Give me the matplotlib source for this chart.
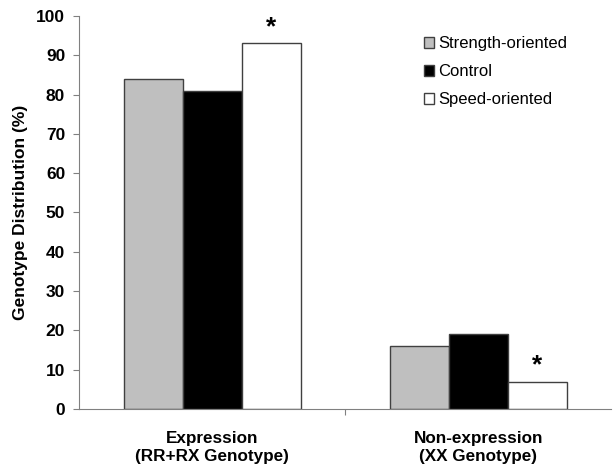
import matplotlib.pyplot as plt
import numpy as np
from matplotlib.patches import Patch

plt.rcParams['font.family'] = ['Liberation Sans', 'DejaVu Sans']

categories = ['Expression\n(RR+RX Genotype)', 'Non-expression\n(XX Genotype)']
groups = ['Strength-oriented', 'Control', 'Speed-oriented']
strength = [84, 16]
control = [81, 19]
speed = [93, 7]
colors = ['#bfbfbf', '#000000', '#ffffff']

fig = plt.figure(figsize=(6.13, 4.67), dpi=100)
ax = fig.add_axes([0.129, 0.124, 0.868, 0.842])

x = np.arange(len(categories))
w = 0.222
for i, (vals, c) in enumerate(zip([strength, control, speed], colors)):
    ax.bar(x + (i - 1) * w, vals, w, color=c, edgecolor='#404040', linewidth=1.0, label=groups[i])

# significance marks above speed bars
for xi, v in zip(x, speed):
    ax.text(xi + w, v + 1.0, '*', ha='center', va='bottom', fontsize=19, fontweight='bold')

ax.set_xlim(-0.5, 1.5)
ax.set_ylim(0, 100)
ax.set_yticks(range(0, 101, 10))
ax.set_yticklabels([str(v) for v in range(0, 101, 10)], fontsize=12.5, fontweight='bold')
ax.set_xticks([0.5], minor=False)
ax.set_xticklabels([''])
ax.tick_params(axis='x', length=4, color='#808080')
ax.tick_params(axis='y', length=4, color='#808080', pad=6)
for xi, lab in zip(x, categories):
    ax.text(xi, -5.5, lab, ha='center', va='top', fontsize=12.3, fontweight='bold', linespacing=1.3)

ax.set_ylabel('Genotype Distribution (%)', fontsize=12.5, fontweight='bold', labelpad=6)

for s in ['top', 'right']:
    ax.spines[s].set_visible(False)
ax.spines['left'].set_color('#808080')
ax.spines['bottom'].set_color('#808080')

handles = [Patch(facecolor=c, edgecolor='#404040', linewidth=1.0) for c in colors]
ax.legend(handles, groups, loc='upper left', bbox_to_anchor=(0.635, 0.965), frameon=False,
          fontsize=12, handlelength=0.6, handleheight=0.6, handletextpad=0.3, labelspacing=0.78,
          borderaxespad=0)

plt.savefig('out.png', dpi=100)
